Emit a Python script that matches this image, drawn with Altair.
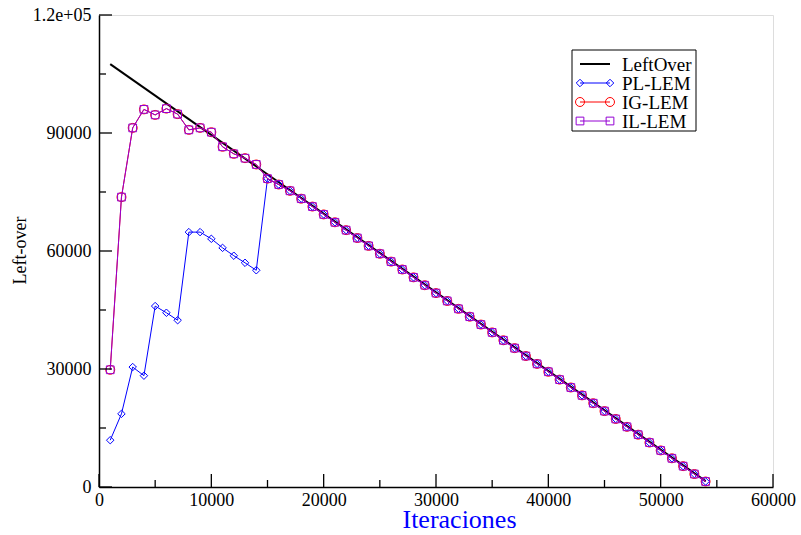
import altair as alt
import pandas as pd

# Iteration counts at which each heuristic was sampled
iterations = [
    1000, 2000, 3000, 4000, 5000, 6000, 7000, 8000, 9000, 10000,
    11000, 12000, 13000, 14000, 15000, 16000, 17000, 18000, 19000, 20000,
    21000, 22000, 23000, 24000, 25000, 26000, 27000, 28000, 29000, 30000,
    31000, 32000, 33000, 34000, 35000, 36000, 37000, 38000, 39000, 40000,
    41000, 42000, 43000, 44000, 45000, 46000, 47000, 48000, 49000, 50000,
    51000, 52000, 53000, 54000,
]

# Reference left-over (straight line between its end points)
leftover_x = [1000, 54000]
leftover = [107500, 1500]

pl_lem = [
    11900, 18600, 30500, 28300, 46000, 44300, 42400, 64800, 64800, 63100,
    60800, 58800, 57000, 55100, 78400, 76900, 75300, 73300, 71300, 69300,
    67300, 65300, 63300, 61300, 59300, 57300, 55300, 53300, 51300, 49300,
    47300, 45300, 43300, 41300, 39300, 37300, 35300, 33300, 31300, 29300,
    27300, 25300, 23300, 21300, 19300, 17300, 15300, 13300, 11300, 9300,
    7300, 5300, 3300, 1400,
]

ig_lem = [
    29800, 73700, 91300, 96000, 94600, 96200, 94800, 90800, 91300, 90200,
    86500, 84700, 83600, 82000, 78400, 76900, 75300, 73300, 71300, 69300,
    67300, 65300, 63300, 61300, 59300, 57300, 55300, 53300, 51300, 49300,
    47300, 45300, 43300, 41300, 39300, 37300, 35300, 33300, 31300, 29300,
    27300, 25300, 23300, 21300, 19300, 17300, 15300, 13300, 11300, 9300,
    7300, 5300, 3300, 1400,
]

il_lem = [
    29800, 73700, 91300, 96000, 94600, 96200, 94800, 90800, 91300, 90200,
    86500, 84700, 83600, 82000, 78400, 76900, 75300, 73300, 71300, 69300,
    67300, 65300, 63300, 61300, 59300, 57300, 55300, 53300, 51300, 49300,
    47300, 45300, 43300, 41300, 39300, 37300, 35300, 33300, 31300, 29300,
    27300, 25300, 23300, 21300, 19300, 17300, 15300, 13300, 11300, 9300,
    7300, 5300, 3300, 1400,
]

series_names = ["LeftOver", "PL-LEM", "IG-LEM", "IL-LEM"]
series_colors = ["#000000", "#0000ff", "#ff0000", "#9400d3"]
series_shapes = [None, "diamond", "circle", "square"]
series_sizes = [0, 56, 80, 60]

x_major = [0, 10000, 20000, 30000, 40000, 50000, 60000]
x_minor = [5000, 15000, 25000, 35000, 45000, 55000]
y_major = [0, 30000, 60000, 90000, 120000]
y_minor = [15000, 45000, 75000, 105000]

FONT = "Liberation Serif"
W, H = 674, 472

xscale = alt.Scale(domain=[0, 60000], nice=False, zero=False)
yscale = alt.Scale(domain=[0, 120000], nice=False, zero=False)

x_axis = alt.Axis(
    values=x_major, format="d", ticks=False, tickSize=0, grid=False,
    domainColor="black", domainWidth=1.5, labelFont=FONT, labelFontSize=18,
    labelColor="black", labelPadding=4, labelFlush=False, labelOverlap=False,
    title="Iteraciones", titleFont=FONT, titleFontSize=26, titleColor="#0000ff",
    titleFontWeight="normal", titleX=360, titleY=40, titleAlign="center",
    titleBaseline="alphabetic",
)
y_axis = alt.Axis(
    values=y_major, ticks=False, tickSize=0, grid=False,
    labelExpr="datum.value == 120000 ? '1.2e+05' : format(datum.value, 'd')",
    domainColor="black", domainWidth=1.5, labelFont=FONT, labelFontSize=18,
    labelColor="black", labelPadding=8, labelFlush=False, labelOverlap=False,
    title="Left-over", titleFont=FONT, titleFontSize=18, titleColor="black",
    titleFontWeight="normal", titleAngle=270, titleX=-79, titleY=235,
    titleAlign="center", titleBaseline="middle",
)

layers = []

# Reference line (carries the axes)
lo_df = pd.DataFrame({"it": leftover_x, "val": leftover})
layers.append(
    alt.Chart(lo_df).mark_line(color="black", strokeWidth=2).encode(
        x=alt.X("it:Q", scale=xscale, axis=x_axis),
        y=alt.Y("val:Q", scale=yscale, axis=y_axis),
    )
)

# Heuristic runs: thin line with hollow markers
for name, vals, color, shape, size in zip(
    series_names[1:], [pl_lem, ig_lem, il_lem],
    series_colors[1:], series_shapes[1:], series_sizes[1:],
):
    df = pd.DataFrame({"it": iterations, "val": vals, "serie": name})
    base = alt.Chart(df).encode(
        x=alt.X("it:Q", scale=xscale), y=alt.Y("val:Q", scale=yscale)
    )
    layers.append(base.mark_line(color=color, strokeWidth=1))
    layers.append(
        base.mark_point(shape=shape, size=size, filled=False, color=color,
                        strokeWidth=1, opacity=1)
    )

# Inward tick marks
tick_df = lambda vals: pd.DataFrame({"v": vals})
layers.append(
    alt.Chart(tick_df(x_major)).mark_rule(color="black", strokeWidth=1.3).encode(
        x=alt.X("v:Q", scale=xscale), y=alt.value(H), y2=alt.value(H - 13)
    )
)
layers.append(
    alt.Chart(tick_df(x_minor)).mark_rule(color="black", strokeWidth=1.3).encode(
        x=alt.X("v:Q", scale=xscale), y=alt.value(H), y2=alt.value(H - 7)
    )
)
layers.append(
    alt.Chart(tick_df(y_major)).mark_rule(color="black", strokeWidth=1.3).encode(
        y=alt.Y("v:Q", scale=yscale), x=alt.value(0), x2=alt.value(13)
    )
)
layers.append(
    alt.Chart(tick_df(y_minor)).mark_rule(color="black", strokeWidth=1.3).encode(
        y=alt.Y("v:Q", scale=yscale), x=alt.value(0), x2=alt.value(7)
    )
)

# Legend box
box = pd.DataFrame({"a": [0]})
layers.append(
    alt.Chart(box).mark_rect(fill="white", stroke="black", strokeWidth=1).encode(
        x=alt.value(473), x2=alt.value(597), y=alt.value(35), y2=alt.value(116)
    )
)
legend_rows = [49, 68, 87, 106]
for name, color, shape, size, ry in zip(
    series_names, series_colors, series_shapes, series_sizes, legend_rows
):
    row = pd.DataFrame({"serie": [name]})
    layers.append(
        alt.Chart(row).mark_rule(color=color,
                                 strokeWidth=2 if shape is None else 1).encode(
            x=alt.value(481), x2=alt.value(511), y=alt.value(ry)
        )
    )
    if shape is not None:
        for px in (481, 511):
            layers.append(
                alt.Chart(row).mark_point(shape=shape, size=size, filled=False,
                                          color=color, strokeWidth=1,
                                          opacity=1).encode(
                    x=alt.value(px), y=alt.value(ry)
                )
            )
    layers.append(
        alt.Chart(row).mark_text(font=FONT, fontSize=19, color="black",
                                 align="left", baseline="middle").encode(
            x=alt.value(523), y=alt.value(ry + 1), text="serie:N"
        )
    )

chart = alt.layer(*layers).properties(
    width=W, height=H, autosize="none",
    padding={"left": 99, "top": 15, "right": 28, "bottom": 48},
).configure_view(stroke=None).configure(background="white")

chart.save("out.html", embed_options={"renderer": "svg", "actions": False})
